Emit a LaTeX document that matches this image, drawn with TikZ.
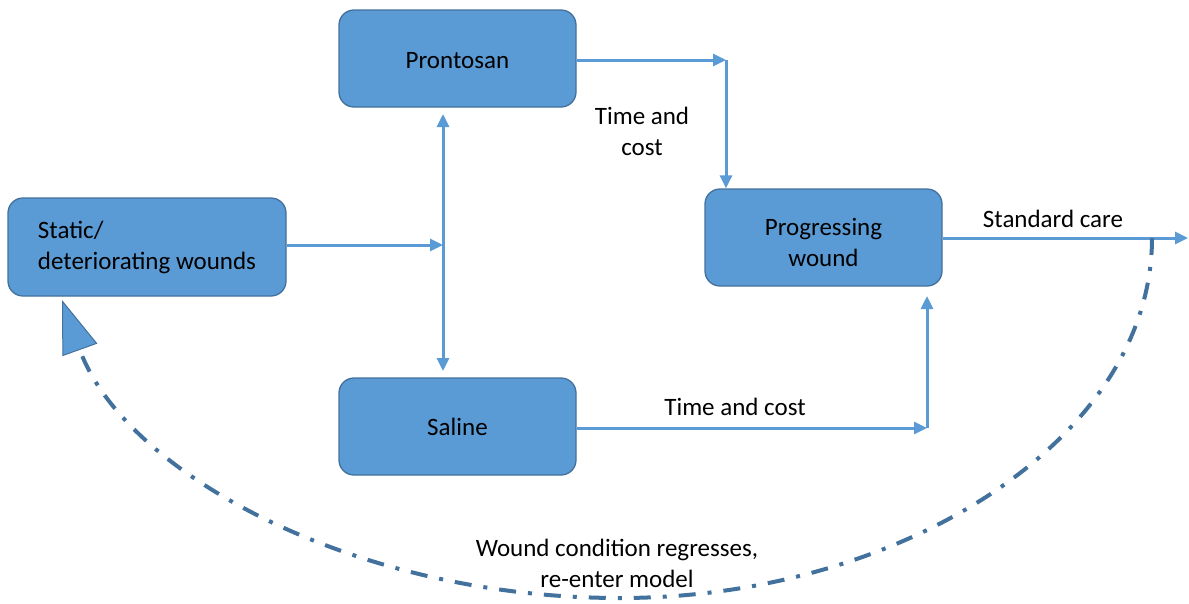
\documentclass[tikz,border=0pt]{standalone}
\usepackage{fontspec}
\setmainfont{Carlito}
\usetikzlibrary{arrows.meta}
\definecolor{boxfill}{HTML}{5B9BD5}
\definecolor{boxline}{HTML}{41719C}
\definecolor{loopline}{HTML}{41719C}
\begin{document}
\begin{tikzpicture}[x=1pt,y=-1pt,
  txt/.style={font=\fontsize{25}{31}\selectfont},
  box/.style={txt, draw=boxline, line width=1.3pt, fill=boxfill,
    rounded corners=15pt, inner sep=0pt, align=center,
    minimum width=237pt, minimum height=97pt},
  lbl/.style={txt, align=center, inner sep=0pt},
  flow/.style={draw=boxfill, line width=3pt, -{Triangle[length=13pt,width=12pt]}},
  bothways/.style={draw=boxfill, line width=3pt,
    {Triangle[length=13pt,width=12pt]}-{Triangle[length=13pt,width=12pt]}},
  loopback/.style={draw=loopline, line width=4pt,
    dash pattern=on 17pt off 12pt on 4pt off 12pt,
    -{Triangle[length=53pt,width=37pt,fill=boxfill,line width=1pt]}},
]
\useasboundingbox (0,0) rectangle (1189,603);

% boxes
\node[box, minimum width=278pt, minimum height=98pt, align=left] (static) at (147,247) {Static/\\deteriorating wounds};
\node[box] (pront) at (457.5,58.5) {\raisebox{-2pt}[\height][\depth]{Prontosan}};
\node[box] (saline) at (457.5,426.5) {Saline};
\node[box] (prog) at (823.5,237.5)
  {\raisebox{-7pt}[\height][\depth]{\begin{tabular}{@{}c@{}}Progressing\\wound\end{tabular}}};

% junctions and free ends
\coordinate (split) at (443,245);
\coordinate (vtop) at (443,114);
\coordinate (vbot) at (443,371);
\coordinate (pturn) at (726,60);
\coordinate (sturn) at (927,428);
\coordinate (sin) at (927,296);
\coordinate (out) at (1188,238);
\coordinate (loopstart) at (1152,238);
\coordinate (looptip) at (62,300);
\coordinate (loopbottom) at (620,598);

% connectors
\draw[flow] (static.east |- split) -- (split);
\draw[bothways] (vbot) -- (vtop);
\draw[flow] (pront.east |- pturn) -- (pturn);
\draw[flow] (pturn) -- (pturn |- prog.north);
\draw[flow] (saline.east |- sturn) -- (sturn);
\draw[flow] (sturn) -- (sin);
\draw[flow] (prog.east |- out) -- (out);

% feedback loop
\draw[loopback] (loopstart) .. controls (1152,440) and (900,598) .. (loopbottom)
  .. controls (350,598) and (123,470) .. (looptip);

% labels
\node[lbl] (tc1) at (642,131) {Time and\\cost};
\node[lbl] (tc2) at (735,407) {Time and cost};
\node[lbl] (sc) at (1053,219) {Standard care};
\node[lbl] (regress) at (617,563) {Wound condition regresses,\\re-enter model};
\end{tikzpicture}
\end{document}
